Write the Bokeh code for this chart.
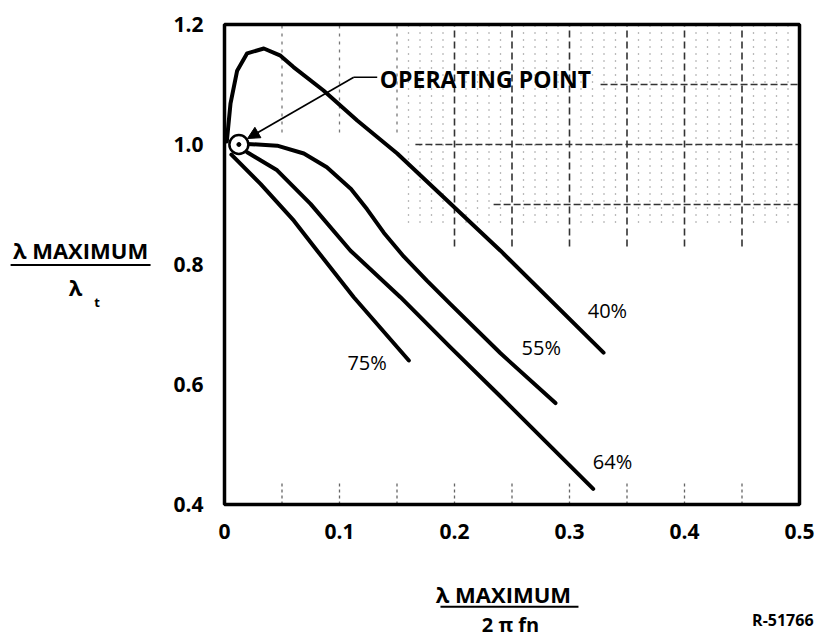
from bokeh.plotting import figure
from bokeh.models import FixedTicker, Label, Arrow, NormalHead
from bokeh.embed import file_html
from bokeh.resources import INLINE
import numpy as np

# ---------------- data ----------------
x_ticks = [0.0, 0.1, 0.2, 0.3, 0.4, 0.5]
x_tick_labels = ["0", "0.1", "0.2", "0.3", "0.4", "0.5"]
y_ticks = [0.4, 0.6, 0.8, 1.0, 1.2]
y_tick_labels = ["0.4", "0.6", "0.8", "1.0", "1.2"]

curve_40_x = [0.002, 0.0052, 0.011, 0.0197, 0.0342, 0.0487, 0.060, 0.0861, 0.1154, 0.1502, 0.240, 0.3296]
curve_40_y = [1.005, 1.068, 1.123, 1.152, 1.160, 1.148, 1.129, 1.090, 1.040, 0.985, 0.823, 0.653]

curve_55_x = [0.0197, 0.0458, 0.069, 0.089, 0.110, 0.124, 0.1385, 0.156, 0.176, 0.1965, 0.240, 0.2878]
curve_55_y = [1.001, 0.998, 0.985, 0.962, 0.926, 0.892, 0.853, 0.813, 0.773, 0.734, 0.652, 0.569]

curve_64_x = [0.0197, 0.0458, 0.0748, 0.1096, 0.153, 0.1965, 0.240, 0.2835, 0.3206]
curve_64_y = [0.987, 0.957, 0.901, 0.823, 0.7455, 0.662, 0.580, 0.497, 0.426]

curve_75_x = [0.006, 0.0313, 0.0603, 0.0806, 0.1124, 0.1603]
curve_75_y = [0.983, 0.9345, 0.873, 0.823, 0.7455, 0.640]

curve_names = ["40%", "55%", "64%", "75%"]
label_x = [0.333, 0.2754, 0.3374, 0.124]
label_y = [0.723, 0.662, 0.472, 0.637]

operating_point_x = [0.0125]
operating_point_y = [1.0]

# ---------------- layout (pixels) ----------------
W, H = 817, 637
FRAME_L, FRAME_R, FRAME_T, FRAME_B = 224, 799, 24, 504
px_per_x = (FRAME_R - FRAME_L) / (x_ticks[-1] - x_ticks[0])
px_per_y = (FRAME_B - FRAME_T) / (y_ticks[-1] - y_ticks[0])
x_range = (x_ticks[0] - FRAME_L / px_per_x, x_ticks[-1] + (W - FRAME_R) / px_per_x)
y_range = (y_ticks[0] - (H - FRAME_B) / px_per_y, y_ticks[-1] + FRAME_T / px_per_y)

FONT = "Open Sans"

p = figure(width=W, height=H, x_range=x_range, y_range=y_range,
           output_backend="svg", toolbar_location=None, min_border=0)
p.background_fill_color = "white"
p.border_fill_color = "white"
p.outline_line_color = None
p.grid.visible = False

p.xaxis.fixed_location = y_ticks[0]
p.xaxis.bounds = (x_ticks[0], x_ticks[-1])
p.yaxis.fixed_location = x_ticks[0]
p.yaxis.bounds = (y_ticks[0], y_ticks[-1])
for ax in (p.xaxis[0], p.yaxis[0]):
    ax.axis_line_color = None
    ax.major_tick_line_color = None
    ax.minor_tick_line_color = None
    ax.major_label_text_font = FONT
    ax.major_label_text_font_size = "21px"
    ax.major_label_text_font_style = "bold"
    ax.major_label_text_color = "black"
p.xaxis.major_label_standoff = 13
p.yaxis.major_label_standoff = 15

p.xaxis.ticker = FixedTicker(ticks=x_ticks)
p.xaxis.major_label_overrides = {t: s for t, s in zip(x_ticks, x_tick_labels)}
p.yaxis.ticker = FixedTicker(ticks=y_ticks)
p.yaxis.major_label_overrides = {t: s for t, s in zip(y_ticks, y_tick_labels)}

# ---------------- graph-paper background (decoration) ----------------
minor_x = [v for v in np.round(np.arange(0.16, 0.501, 0.01), 3) if round(v * 100) % 5 != 0]
p.segment(x0=minor_x, y0=[0.87] * len(minor_x), x1=minor_x, y1=[1.2] * len(minor_x),
          line_color="#777777", line_width=1.3, line_dash="1 6")
major_x = list(np.round(np.arange(0.2, 0.451, 0.05), 3))
p.segment(x0=major_x, y0=[0.83] * len(major_x), x1=major_x, y1=[1.2] * len(major_x),
          line_color="#333333", line_width=1.6, line_dash="7 4")
upper_x = [0.05, 0.1, 0.15]
p.segment(x0=upper_x, y0=[1.02] * 3, x1=upper_x, y1=[1.2] * 3,
          line_color="#777777", line_width=1.3, line_dash="3 5")
p.segment(x0=[0.166, 0.234, 0.327], y0=[1.0, 0.9, 1.1], x1=[0.5, 0.5, 0.5], y1=[1.0, 0.9, 1.1],
          line_color="#333333", line_width=1.6, line_dash="7 3")
bottom_x = list(np.round(np.arange(0.05, 0.451, 0.05), 3))
p.segment(x0=bottom_x, y0=[0.4] * len(bottom_x), x1=bottom_x, y1=[0.44] * len(bottom_x),
          line_color="#666666", line_width=1.3, line_dash="3 3")

# frame box
p.quad(left=[x_ticks[0]], right=[x_ticks[-1]], bottom=[y_ticks[0]], top=[y_ticks[-1]],
       fill_color=None, line_color="black", line_width=3.5)

# ---------------- curves ----------------
for xs, ys in [(curve_40_x, curve_40_y), (curve_55_x, curve_55_y),
               (curve_64_x, curve_64_y), (curve_75_x, curve_75_y)]:
    p.line(xs, ys, line_color="black", line_width=4, line_cap="round", line_join="round")

p.text(x=label_x, y=label_y, text=curve_names, text_align="center", text_baseline="middle",
       text_font={"value": FONT}, text_font_size="20px", text_color="black")

# operating point
p.scatter(operating_point_x, operating_point_y, marker="circle", size=19,
          fill_color="white", line_color="black", line_width=2.5)
p.scatter(operating_point_x, operating_point_y, marker="circle", size=4,
          fill_color="black", line_color="black")

# leader + arrow
p.segment(x0=[0.1328], y0=[1.112], x1=[0.1124], y1=[1.112], line_color="black", line_width=1.6)
p.add_layout(Arrow(end=NormalHead(size=12, fill_color="black", line_color="black"),
                   x_start=0.1124, y_start=1.112, x_end=0.020, y_end=1.010,
                   line_color="black", line_width=1.6))
p.add_layout(Label(x=0.135, y=1.11, text="OPERATING POINT", text_font=FONT,
                   text_font_size="23px", text_font_style="bold", text_baseline="middle",
                   text_align="left", text_color="black"))

# ---------------- axis titles ----------------
p.add_layout(Label(x=-0.1252, y=0.8235, text="λ MAXIMUM", text_font=FONT, text_font_size="22px",
                   text_font_style="bold", text_align="center", text_baseline="middle",
                   text_color="black"))
p.add_layout(Arrow(end=None, x_start=-0.186, y_start=0.799, x_end=-0.0643, y_end=0.799,
                   line_color="black", line_width=2))
p.add_layout(Label(x=-0.1296, y=0.763, text="λ", text_font=FONT, text_font_size="22px",
                   text_font_style="bold", text_align="center", text_baseline="middle",
                   text_color="black"))
p.add_layout(Label(x=-0.1107, y=0.738, text="t", text_font=FONT, text_font_size="13px",
                   text_font_style="bold", text_align="center", text_baseline="middle",
                   text_color="black"))

p.add_layout(Label(x=0.2426, y=0.2503, text="λ MAXIMUM", text_font=FONT, text_font_size="22px",
                   text_font_style="bold", text_align="center", text_baseline="middle",
                   text_color="black"))
p.add_layout(Arrow(end=None, x_start=0.1878, y_start=0.2295, x_end=0.3078, y_end=0.2295,
                   line_color="black", line_width=2))
p.add_layout(Label(x=0.2487, y=0.2008, text="2 π fn", text_font=FONT, text_font_size="20px",
                   text_font_style="bold", text_align="center", text_baseline="middle",
                   text_color="black"))
p.add_layout(Label(x=0.5122, y=0.2083, text="R-51766", text_font=FONT, text_font_size="16px",
                   text_font_style="bold", text_align="right", text_baseline="middle",
                   text_color="black"))

open("out.html", "w").write(file_html(p, INLINE))
